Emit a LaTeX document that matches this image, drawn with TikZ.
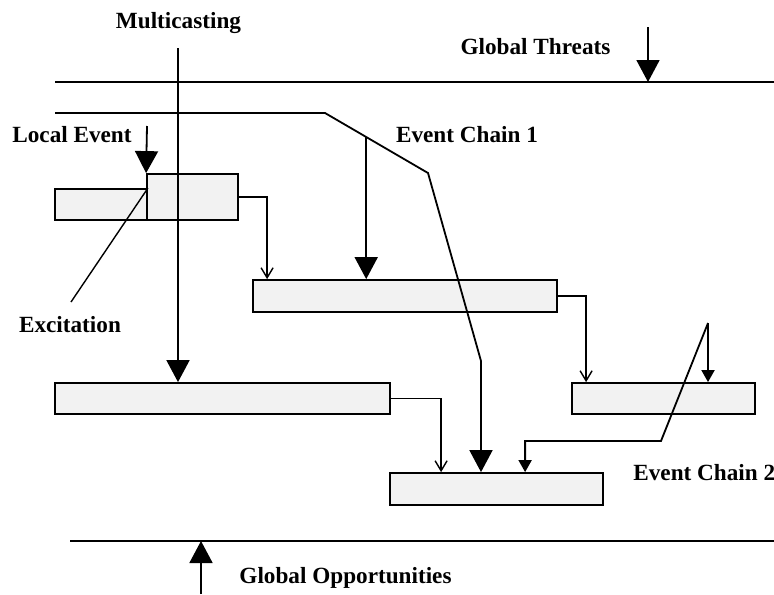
\documentclass[tikz,border=0pt]{standalone}
\usepackage{fontspec}
\setmainfont{Liberation Serif}
\usetikzlibrary{arrows.meta,calc}

\begin{document}
\begin{tikzpicture}[x=0.5pt,y=-0.5pt,font=\fontsize{11.6}{14}\selectfont\bfseries]
    \tikzstyle{block} = [draw, shape=rectangle, fill=gray!10, line width=0.9pt, inner sep=0pt]
    \tikzstyle{caption} = [inner sep=0pt]
    \tikzstyle{bigtip} = [-{Triangle[length=11pt,width=11.5pt]}]
    \tikzstyle{midtip} = [-{Triangle[length=6pt,width=6.5pt]}]
    \tikzstyle{smalltip} = [-{Straight Barb[length=5pt,width=6pt]}, line width=0.7pt]
    \useasboundingbox (0,0) rectangle (774,594);
    %Creating Blocks and Labels
    \node [block, minimum width=46pt, minimum height=15.5pt] (block_1a) at (101,204.5) {};
    \node [block, minimum width=45.5pt, minimum height=23pt] (block_1b) at (192.5,197) {};
    \node [block, minimum width=152pt, minimum height=16pt] (block_2) at (405,296) {};
    \node [block, minimum width=167.5pt, minimum height=15.5pt] (block_3) at (222.5,398.5) {};
    \node [block, minimum width=91.5pt, minimum height=15.5pt] (block_4) at (663.5,398.5) {};
    \node [block, minimum width=106.5pt, minimum height=16pt] (block_5) at (496.5,489) {};

    \node [caption] (multicasting) at (178.5,23) {Multicasting};
    \node [caption] (threats) at (535.5,47) {Global Threats};
    \node [caption] (local_event) at (72,135) {Local Event};
    \node [caption] (chain_1) at (467,135) {Event Chain 1};
    \node [caption] (excitation) at (70,325) {Excitation};
    \node [caption, anchor=west] (chain_2) at (633,473) {Event Chain 2};
    \node [caption] (opportunities) at (345.5,578) {Global Opportunities};

    %Creating Coordinates
    \coordinate (threat_w) at (55,82);
    \coordinate (threat_e) at (774,82);
    \coordinate (threat_top) at (648,27);
    \coordinate (opport_w) at (70,541);
    \coordinate (opport_e) at (774,541);
    \coordinate (opport_bottom) at (201,594);
    \coordinate (multicast_top) at (178,48);
    \coordinate (local_top) at (147,126);
    \coordinate (chain_1_start) at (55,113);
    \coordinate (chain_1_knee) at (325,113);
    \coordinate (chain_1_bend) at (428,173);
    \coordinate (chain_1_foot) at (481,361);
    \coordinate (chain_1_drop) at ($(chain_1_knee)!0.4!(chain_1_bend)$);
    \coordinate (chain_2_top) at (708,323);
    \coordinate (chain_2_bend) at (661,441);
    \coordinate (excitation_end) at (71,302);

    %Conecting Blocks
    \begin{scope}[line width=0.9pt]
        \draw (threat_w) -- (threat_e);
        \draw (opport_w) -- (opport_e);
        \draw[bigtip] (threat_top) -- (threat_top |- threat_w);
        \draw[bigtip] (opport_bottom) -- (opport_bottom |- opport_w);

        \draw[bigtip] (multicast_top) -- (multicast_top |- block_3.north);
        \draw[bigtip] (local_top) -- (block_1b.north west);
        \draw[line width=0.7pt] (block_1a.north east) -- (excitation_end);

        \draw[bigtip] (chain_1_start) -- (chain_1_knee) -- (chain_1_bend) -- (chain_1_foot) -- (chain_1_foot |- block_5.north);
        \draw[bigtip] (chain_1_drop) -- (chain_1_drop |- block_2.north);

        \draw[midtip] (chain_2_top) -- (chain_2_top |- block_4.north);
        \draw[midtip] (chain_2_top) -- (chain_2_bend) -| ([xshift=68pt]block_5.north west);

        \draw[smalltip] (block_1b.east) -| ([xshift=7.5pt]block_2.north west);
        \draw[smalltip] (block_2.east) -| ([xshift=7.5pt]block_4.north west);
        \draw[smalltip] (block_3.east) -| ([xshift=26pt]block_5.north west);
    \end{scope}
\end{tikzpicture}
\end{document}
